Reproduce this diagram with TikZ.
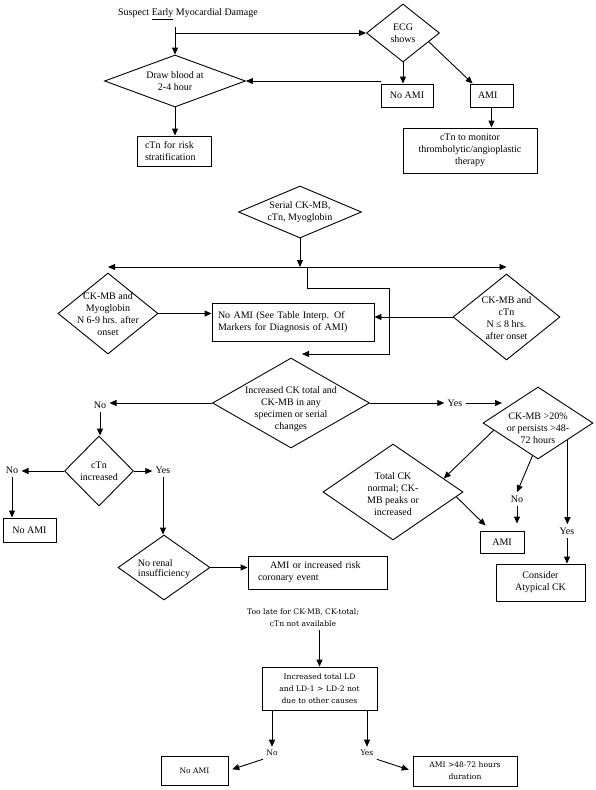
\documentclass[tikz,border=0pt]{standalone}
\usepackage{fontspec}
\setmainfont{Liberation Serif}
\newfontfamily\schfont{DejaVu Serif}
\usetikzlibrary{arrows.meta,shapes.geometric,calc}
\begin{document}
\begin{tikzpicture}[x=1pt,y=-1pt,
  font=\fontsize{10}{12}\selectfont,
  line width=0.9pt,
  arr/.style={-{Triangle[length=7pt,width=6pt]}},
  dbl/.style={{Triangle[length=7pt,width=6pt]}-{Triangle[length=7pt,width=6pt]}},
  box/.style={draw, rectangle, inner sep=0pt, align=center},
  dia/.style={draw, diamond, inner sep=0pt},
  txt/.style={inner sep=0pt, align=center},
  lab/.style={inner sep=3pt},
  low/.style={font=\schfont\fontsize{7.6}{12}\selectfont}]
\useasboundingbox (0,0) rectangle (595,790);

% ---------- top part ----------
\node[txt] (title) at (188,14) {Suspect \underline{Early} Myocardial Damage};
\coordinate (start) at (175,27);
\node[dia, minimum width=141pt, minimum height=52pt] (blood) at (175,81) {};
\node[txt] (bloodt) at (blood) {Draw blood at\\2-4 hour};
\node[dia, minimum width=73pt, minimum height=58pt] (ecg) at (403,33) {};
\node[txt] (ecgt) at (ecg) {ECG\\shows};
\node[box, minimum width=52pt, minimum height=23pt] (noami1) at (407,95.5) {No AMI};
\node[box, minimum width=43pt, minimum height=23pt, text width=27pt, align=left] (ami1) at (491.5,95.5) {AMI};
\node[box, minimum width=134pt, minimum height=45pt] (big) at (470,150.5) {cTn to monitor\\thrombolytic/angioplastic\\therapy};
\node[box, minimum width=74pt, minimum height=30pt, text width=58pt, align=left] (ctn1) at (174,151) {cTn for risk\\stratification};

\draw[arr] (start) -- (blood.north);
\draw[arr] (start |- ecg.west) -- (ecg.west);
\draw[arr] (ecg.south) -- (ecg.south |- noami1.north);
\draw[arr] ($(ecg.south)!0.7!(ecg.east)$) -- ($(ami1.north west)+(3,0)$);
\draw[arr] (noami1.north west |- blood.east) -- (blood.east);
\draw[arr] (blood.south) -- (blood.south |- ctn1.north);
\draw[arr] (ami1.south) -- (ami1.south |- big.north);

% ---------- middle part ----------
\node[dia, minimum width=123pt, minimum height=52pt] (serial) at (300,212) {};
\node[txt] (serialt) at (serial) {Serial CK-MB,\\cTn, Myoglobin};
\coordinate (hl) at (303,267);
\node[dia, minimum width=100pt, minimum height=81pt] (ldia) at (108,313.5) {};
\node[txt] (ldiat) at ($(ldia)+(0,1)$) {CK-MB and\\Myoglobin\\N 6-9 hrs. after\\onset};
\node[dia, minimum width=107pt, minimum height=86pt] (rdia) at (506.5,317) {};
\node[txt] (rdiat) at ($(rdia)+(0,1)$) {CK-MB and\\cTn\\N ≤ 8 hrs.\\after onset};
\node[box, minimum width=162pt, minimum height=38pt, text width=150pt, align=left] (noami2) at (293,322) {No AMI (See Table Interp. Of\\Markers for Diagnosis of AMI)};

\coordinate (loopA) at (307,267);
\coordinate (loopB) at (389,288);
\coordinate (loopEnd) at (302,354);

\draw[arr] (serial.south) -- (serial.south |- hl);
\draw[dbl] (ldia.north |- hl) -- (rdia.north |- hl);
\draw[arr] (loopA) |- (loopB) |- (loopEnd);
\draw[arr] (ldia.east) -- (ldia.east -| noami2.west);
\draw[arr] (rdia.west) -- (rdia.west -| noami2.east);

\node[dia, minimum width=157pt, minimum height=90pt] (incr) at (291,403) {};
\node[txt] (incrt) at ($(incr)+(0,6)$) {Increased CK total and\\CK-MB in any\\specimen or serial\\changes};

% left branch
\node[lab] (no1) at (100,405) {No};
\draw[arr] (incr.west) -- (incr.west -| no1.east);
\node[dia, minimum width=69pt, minimum height=70pt] (ctn2) at (99,471) {};
\node[txt] (ctn2t) at (ctn2) {cTn\\increased};
\draw[arr] (no1.south) -- (no1.south |- ctn2.north);
\node[lab] (no2) at (12,470) {No};
\draw[arr] (ctn2.west) -- (ctn2.west -| no2.east);
\node[box, minimum width=53pt, minimum height=24pt] (noami3) at (29.5,530) {No AMI};
\draw[arr] (no2.south) -- (no2.south |- noami3.north);
\node[lab] (yes1) at (163,470) {Yes};
\draw[arr] (ctn2.east) -- (ctn2.east -| yes1.west);
\node[dia, minimum width=92pt, minimum height=65pt] (renal) at (164,567.5) {};
\node[txt, align=left, font=\fontsize{10}{10}\selectfont] (renalt) at ($(renal)+(0,2)$) {No renal\\insufficiency};
\draw[arr] (yes1.south) -- (yes1.south |- renal.north);
\node[box, minimum width=139pt, minimum height=33pt, text width=119pt, align=left] (box5) at (317.5,572.5) {\hspace*{12pt}AMI or increased risk\\coronary event};
\draw[arr] (renal.east) -- (renal.east -| box5.west);

% right branch
\node[lab] (yes2) at (455,403) {Yes};
\draw[arr] (incr.east) -- (incr.east -| yes2.west);
\coordinate (yesend) at (502,403);
\draw[arr] (yes2.east) -- (yesend);
\node[dia, minimum width=110pt, minimum height=72pt] (ck20) at (538,423) {};
\node[txt] (ck20t) at ($(ck20)+(0,5)$) {CK-MB >20\%\\or persists >48-\\72 hours};
\node[dia, minimum width=140pt, minimum height=96pt] (totck) at (393,492) {};
\node[txt] (totckt) at ($(totck)+(0,2)$) {Total CK\\normal; CK-\\MB peaks or\\increased};
\node[lab] (no3) at (517,499) {No};
\node[box, minimum width=44pt, minimum height=22pt] (ami2) at (502,542) {AMI};
\node[lab] (yes3) at (567,531) {Yes};
\node[box, minimum width=89pt, minimum height=37pt] (consider) at (540.5,582.5) {Consider\\Atypical CK};
\coordinate (ck20r) at ($(ck20.south)!0.53!(ck20.east)$);

\draw[arr] ($(ck20.west)!0.2!(ck20.south)$) -- ($(totck.north)!0.72!(totck.east)$);
\draw[arr] ($(ck20.south)!0.1!(ck20.west)$) -- (no3.north);
\draw[arr, shorten >=7pt] (no3.south) -- (no3.south |- ami2.north);
\draw[arr] ($(totck.east)!0.1!(totck.south)$) -- ($(ami2.north west)+(6,-5)$);
\draw[arr] (ck20r) -- (ck20r |- yes3.north);
\draw[arr] (yes3.south) -- (yes3.south |- consider.north);

% ---------- bottom part ----------
\node[txt, low] (late) at (303,618) {Too late for CK-MB, CK-total;\\cTn not available};
\node[box, low, minimum width=115pt, minimum height=43pt] (ld) at (319.5,688.5) {Increased total LD\\and LD-1 > LD-2 not\\due to other causes};
\draw[arr] (ld.north |- late.south) ++(0,3) -- (ld.north);
\node[lab, low] (no4) at (272,753) {No};
\node[lab, low] (yes4) at (367,753) {Yes};
\draw[arr] (no4.north |- ld.south) -- (no4.north);
\draw[arr] (yes4.north |- ld.south) -- (yes4.north);
\node[box, low, minimum width=67pt, minimum height=29pt] (noami4) at (194.5,770.5) {No AMI};
\node[box, low, minimum width=104pt, minimum height=30pt] (ami4) at (465,771) {AMI >48-72 hours\\duration};
\draw[arr, shorten >=4pt] (no4.south west) -- (noami4.east);
\draw[arr, shorten >=4pt] (yes4.south east) -- (ami4.west);
\end{tikzpicture}
\end{document}
